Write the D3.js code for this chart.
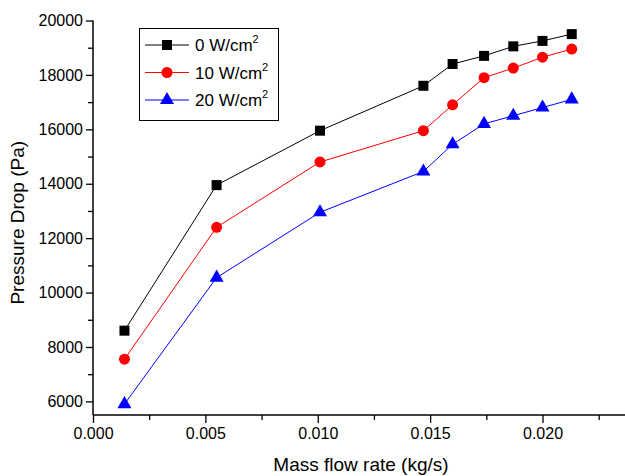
<!DOCTYPE html>
<html><head><meta charset="utf-8">
<script src="https://cdn.jsdelivr.net/npm/d3@7"></script>
<style>body{margin:0;background:#fff}svg{display:block}text{font-family:"Liberation Sans",Arial,sans-serif;fill:#000}</style>
</head><body><svg id="c" width="625" height="476"></svg>
<script>
const massFlow = [0.0014, 0.0055, 0.0101, 0.0147, 0.0160, 0.0174, 0.0187, 0.0200, 0.0213];
const drop0W = [8600, 13950, 15950, 17600, 18400, 18700, 19050, 19250, 19500];
const drop10W = [7550, 12400, 14800, 15950, 16900, 17900, 18250, 18650, 18950];
const drop20W = [5900, 10550, 12950, 14450, 15450, 16200, 16500, 16800, 17100];
const seriesNames = ["0 W/cm", "10 W/cm", "20 W/cm"];
const xTicks = [0, 0.005, 0.010, 0.015, 0.020];
const yTicks = [6000, 8000, 10000, 12000, 14000, 16000, 18000, 20000];

const svg = d3.select("#c");
const L = 93, R = 625, T = 20.5, B = 415;
const x = d3.scaleLinear().domain([0, 0.02367]).range([L, R]);
const y = d3.scaleLinear().domain([5500, 20000]).range([B, T]);

const series = [
  {name: seriesNames[0], vals: drop0W, color: "#000000", shape: d3.symbolSquare, size: 100},
  {name: seriesNames[1], vals: drop10W, color: "#ff0000", shape: d3.symbolCircle, size: 95},
  {name: seriesNames[2], vals: drop20W, color: "#0000ff", shape: d3.symbolTriangle, size: 85}
];

// axes
const xMinor = d3.range(0.0025, 0.0236, 0.005);
const yMinor = d3.range(7000, 20000, 2000);
const xAx = svg.append("g").attr("transform", `translate(0,${B})`);
xAx.call(d3.axisBottom(x).tickValues(xMinor).tickSize(5).tickFormat(""));
xAx.call(g => g.select(".domain").remove());
const xAx2 = svg.append("g").attr("transform", `translate(0,${B})`)
  .call(d3.axisBottom(x).tickValues(xTicks).tickSize(8).tickPadding(5).tickFormat(d3.format(".3f")));
const yAx = svg.append("g").attr("transform", `translate(${L},0)`);
yAx.call(d3.axisLeft(y).tickValues(yMinor).tickSize(5).tickFormat(""));
yAx.call(g => g.select(".domain").remove());
const yAx2 = svg.append("g").attr("transform", `translate(${L},0)`)
  .call(d3.axisLeft(y).tickValues(yTicks).tickSize(7).tickPadding(3).tickFormat(d3.format("d")));
svg.selectAll(".tick line").attr("stroke", "#000").attr("stroke-width", 1.3);
svg.selectAll(".domain").attr("stroke", "#000").attr("stroke-width", 1.5);
svg.selectAll(".tick text").attr("font-size", 16).attr("font-family", "Liberation Sans, Arial, sans-serif").attr("fill", "#000");
xAx2.select(".domain").attr("d", `M${L},0H${R}`);
yAx2.select(".domain").attr("d", `M0,${B}V${T}`);

// titles
svg.append("text").attr("x", 361).attr("y", 471).attr("text-anchor", "middle")
  .attr("font-size", 19).text("Mass flow rate (kg/s)");
svg.append("text").attr("transform", `translate(24,${(T + B) / 2 + 5}) rotate(-90)`).attr("text-anchor", "middle")
  .attr("font-size", 19).text("Pressure Drop (Pa)");

// lines and markers
const line = d3.line().x((d, i) => x(massFlow[i])).y(d => y(d));
series.forEach(s => {
  svg.append("path").attr("d", line(s.vals)).attr("fill", "none").attr("stroke", s.color).attr("stroke-width", 1);
  svg.selectAll(null).data(s.vals).enter().append("path")
    .attr("d", d3.symbol().type(s.shape).size(s.size))
    .attr("transform", (d, i) => `translate(${x(massFlow[i])},${y(d)})`)
    .attr("fill", s.color);
});

// legend
const lg = svg.append("g");
lg.append("rect").attr("x", 139.5).attr("y", 28.5).attr("width", 139).attr("height", 92)
  .attr("fill", "#fff").attr("stroke", "#000").attr("stroke-width", 1);
series.forEach((s, i) => {
  const cy = 45 + i * 27.5;
  lg.append("line").attr("x1", 145).attr("x2", 189).attr("y1", cy).attr("y2", cy).attr("stroke", s.color).attr("stroke-width", 1);
  lg.append("path").attr("d", d3.symbol().type(s.shape).size(s.size)()).attr("transform", `translate(167,${cy})`).attr("fill", s.color);
  const t = lg.append("text").attr("x", 195).attr("y", cy + 6).attr("font-size", 17);
  t.append("tspan").text(s.name);
  t.append("tspan").attr("dy", -8).attr("font-size", 11).text("2");
});
</script></body></html>
